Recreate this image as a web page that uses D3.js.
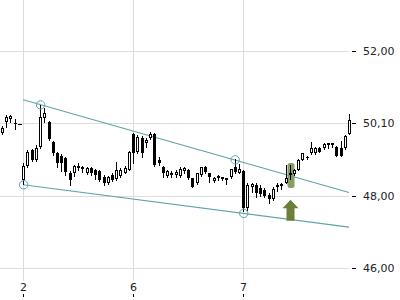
<!DOCTYPE html>
<html>
<head>
<meta charset="utf-8">
<script src="https://cdn.jsdelivr.net/npm/d3@7"></script>
<style>
body { margin: 0; background: #fff; }
svg { display: block; font-family: "DejaVu Sans", sans-serif; }
</style>
</head>
<body>
<svg id="drawing_region"></svg>
<script>
// candle values, one entry per session
const opens = [
49.72, 50.03, 50.12, 50.00, 49.99, 48.43, 48.82, 49.26, 48.99, 49.35,
50.15, 50.04, 49.49, 49.18, 49.10, 49.04, 48.64, 48.64, 48.79, 48.79,
48.64, 48.77, 48.71, 48.69, 48.52, 48.34, 48.57, 48.45, 48.54, 48.64,
48.71, 49.71, 49.22, 49.59, 49.45, 49.60, 49.71, 48.99, 48.80, 48.54,
48.64, 48.57, 48.54, 48.68, 48.71, 48.48, 48.34, 48.57, 48.78, 48.62,
48.41, 48.48, 48.51, 48.48, 48.51, 48.78, 48.64, 48.68, 47.65, 48.25,
48.30, 48.21, 48.16, 48.02, 47.91, 48.23, 48.28, 48.36, 48.61, 48.60,
48.71, 48.99, 49.08, 49.17, 49.17, 49.31, 49.31, 49.40, 49.45, 49.35,
49.33, 49.31, 49.71];
const highs = [
49.93, 50.23, 50.22, 50.11, 49.99, 48.90, 49.26, 49.29, 49.40, 50.51,
50.42, 50.06, 49.51, 49.21, 49.15, 49.07, 48.68, 48.85, 48.90, 48.82,
48.79, 48.79, 48.74, 48.71, 48.57, 48.54, 48.63, 48.94, 48.77, 48.82,
49.24, 49.74, 49.68, 49.65, 49.59, 49.76, 49.73, 49.08, 48.82, 48.71,
48.68, 48.71, 48.78, 48.78, 48.74, 48.49, 48.63, 48.80, 48.82, 48.64,
48.51, 48.57, 48.52, 48.49, 48.74, 49.02, 48.88, 48.71, 48.34, 48.34,
48.35, 48.30, 48.21, 48.07, 48.24, 48.34, 48.35, 48.85, 48.85, 48.74,
49.01, 49.19, 49.10, 49.49, 49.35, 49.35, 49.45, 49.46, 49.46, 49.37,
49.52, 49.68, 50.26];
const lows = [
49.71, 49.90, 50.04, 49.84, 49.99, 48.32, 48.80, 48.96, 48.97, 49.33,
50.04, 49.54, 49.12, 48.79, 48.68, 48.57, 48.30, 48.54, 48.71, 48.65,
48.60, 48.57, 48.46, 48.41, 48.30, 48.32, 48.41, 48.44, 48.52, 48.63,
48.70, 48.90, 49.18, 49.07, 49.35, 49.58, 48.83, 48.85, 48.52, 48.52,
48.52, 48.52, 48.51, 48.62, 48.46, 48.24, 48.32, 48.54, 48.62, 48.39,
48.39, 48.43, 48.43, 48.32, 48.50, 48.62, 48.63, 47.58, 47.60, 48.11,
47.96, 47.99, 47.96, 47.79, 47.89, 48.14, 48.18, 48.34, 48.46, 48.57,
48.70, 48.98, 49.01, 49.14, 49.15, 49.21, 49.29, 49.32, 49.35, 49.09,
49.09, 49.30, 49.70];
const closes = [
49.88, 50.18, 50.20, 49.97, 49.99, 48.82, 49.22, 48.99, 49.32, 50.18,
50.29, 49.57, 49.17, 48.90, 48.90, 48.66, 48.43, 48.82, 48.82, 48.74,
48.77, 48.62, 48.57, 48.43, 48.34, 48.51, 48.43, 48.71, 48.71, 48.77,
49.22, 49.18, 49.63, 49.18, 49.54, 49.71, 48.85, 48.90, 48.64, 48.68,
48.57, 48.66, 48.73, 48.76, 48.48, 48.25, 48.62, 48.78, 48.66, 48.51,
48.48, 48.54, 48.46, 48.43, 48.73, 48.66, 48.74, 47.65, 48.30, 48.32,
48.07, 48.05, 47.99, 47.91, 48.18, 48.30, 48.31, 48.48, 48.64, 48.71,
48.99, 49.17, 49.03, 49.31, 49.33, 49.22, 49.42, 49.45, 49.40, 49.10,
49.10, 49.65, 50.09];

const xTickIndex = [5, 31, 57];
const xTickLabels = ["2", "6", "7"];
const yTickValues = [46, 48, 50, 52];
const yTickLabels = ["46,00", "48,00", "50,10", "52,00"];

// trend channel: [index, price] end points and the touch points
const upperTrend = [[5, 50.65], [82, 48.09]];
const lowerTrend = [[5, 48.30], [82, 47.13]];
const touchPoints = [[9, 50.51], [55, 48.99], [5, 48.30], [57, 47.51]];

// breakout signal
const signalIndex = 68;
const signalRange = [48.21, 48.90];
const arrowTip = 47.89;

const candles = opens.map((o, i) => ({i: i, o: o, h: highs[i], l: lows[i], c: closes[i]}));

const svg = d3.select('#drawing_region')
    .attr('width', 400)
    .attr('height', 300);

const xscale = d3.scaleLinear().domain([0, opens.length - 1]).range([2, 349]);
const yscale = d3.scaleLinear().domain([46, 52]).range([268, 51]);

const px = i => Math.round(xscale(i));
const py = v => Math.round(yscale(v));

const gridColor = '#dcdcdc';
const trendColor = '#5fa3aa';

// vertical grid
svg.append('g').selectAll('line')
    .data(xTickIndex)
    .join('line')
    .attr('x1', d => px(d) + 0.5).attr('x2', d => px(d) + 0.5)
    .attr('y1', 0).attr('y2', 281)
    .attr('stroke', gridColor);

// horizontal grid
svg.append('g').selectAll('line')
    .data(yTickValues)
    .join('line')
    .attr('x1', 0).attr('x2', 349)
    .attr('y1', d => py(d) + 0.5).attr('y2', d => py(d) + 0.5)
    .attr('stroke', gridColor);

// trend lines
svg.append('g').selectAll('line')
    .data([upperTrend, lowerTrend])
    .join('line')
    .attr('x1', d => xscale(d[0][0])).attr('y1', d => yscale(d[0][1]))
    .attr('x2', d => xscale(d[1][0])).attr('y2', d => yscale(d[1][1]))
    .attr('stroke', trendColor)
    .attr('stroke-width', 1.1);

// signal highlight
svg.append('rect')
    .attr('x', px(signalIndex) - 2.5)
    .attr('y', yscale(signalRange[1]))
    .attr('width', 7)
    .attr('height', yscale(signalRange[0]) - yscale(signalRange[1]))
    .attr('rx', 2.5)
    .attr('fill', '#7d9452')
    .attr('opacity', 0.9);

// candles
const cg = svg.append('g').selectAll('g')
    .data(candles)
    .join('g');

cg.append('line')
    .attr('x1', d => px(d.i) + 0.5).attr('x2', d => px(d.i) + 0.5)
    .attr('y1', d => py(d.h)).attr('y2', d => py(d.l) + 1)
    .attr('stroke', '#000');

cg.filter(d => d.c < d.o).append('rect')
    .attr('x', d => px(d.i) - 1)
    .attr('y', d => py(d.o))
    .attr('width', 3)
    .attr('height', d => Math.max(1, py(d.c) - py(d.o)))
    .attr('fill', '#000');

cg.filter(d => d.c > d.o).append('rect')
    .attr('x', d => px(d.i) - 0.5)
    .attr('y', d => py(d.c) + 0.5)
    .attr('width', 2)
    .attr('height', d => Math.max(1, py(d.o) - py(d.c) - 1))
    .attr('fill', '#fff')
    .attr('stroke', '#000');

cg.filter(d => d.c == d.o).append('rect')
    .attr('x', d => px(d.i) - 1)
    .attr('y', d => py(d.o))
    .attr('width', 4)
    .attr('height', 1)
    .attr('fill', '#000');

// touch circles
svg.append('g').selectAll('circle')
    .data(touchPoints)
    .join('circle')
    .attr('cx', d => xscale(d[0]) + 0.5)
    .attr('cy', d => yscale(d[1]))
    .attr('r', 4.2)
    .attr('fill', 'none')
    .attr('stroke', trendColor);

// up arrow under the breakout
const ax = px(signalIndex) + 0.5;
const ay = yscale(arrowTip);
svg.append('path')
    .attr('d', `M${ax},${ay} L${ax + 8},${ay + 8.5} L${ax + 4},${ay + 8.5} L${ax + 4},${ay + 21}
                L${ax - 4},${ay + 21} L${ax - 4},${ay + 8.5} L${ax - 8},${ay + 8.5} Z`)
    .attr('fill', '#6b7f3b');

// y axis on the right
const yaxis = svg.append('g');
yaxis.selectAll('line')
    .data(yTickValues)
    .join('line')
    .attr('x1', 352).attr('x2', 356)
    .attr('y1', d => py(d) + 0.5).attr('y2', d => py(d) + 0.5)
    .attr('stroke', '#000');
yaxis.selectAll('text')
    .data(yTickValues)
    .join('text')
    .attr('x', 363)
    .attr('y', d => yscale(d) + 4)
    .attr('font-size', '11px')
    .attr('fill', '#222')
    .text((d, i) => yTickLabels[i]);

// x axis labels
const xaxis = svg.append('g');
xaxis.selectAll('text')
    .data(xTickIndex)
    .join('text')
    .attr('x', d => px(d) + 0.5)
    .attr('y', 291)
    .attr('text-anchor', 'middle')
    .attr('font-size', '11px')
    .attr('fill', '#222')
    .text((d, i) => xTickLabels[i]);
xaxis.selectAll('line')
    .data(xTickIndex)
    .join('line')
    .attr('x1', d => px(d) + 0.5).attr('x2', d => px(d) + 0.5)
    .attr('y1', 294).attr('y2', 297)
    .attr('stroke', '#000');
</script>
</body>
</html>
